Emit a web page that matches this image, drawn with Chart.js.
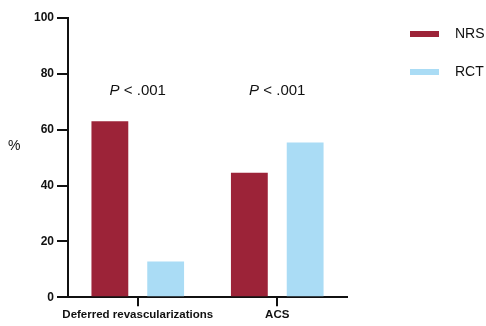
<!DOCTYPE html>
<html>
<head>
<meta charset="utf-8">
<script src="https://cdn.jsdelivr.net/npm/chart.js@4/dist/chart.umd.min.js"></script>
<style>
    html, body { margin: 0; padding: 0; background: #fff; }
    #wrap { width: 486px; height: 326px; }
</style>
</head>
<body>
<div id="wrap"><canvas id="bar-chart"></canvas></div>
<script>
// data
var categories = ['Deferred revascularizations', 'ACS'];
var nrsValues = [63, 44.6];
var rctValues = [12.8, 55.4];
var pLabels = ['.001', '.001'];
var yTicks = [0, 20, 40, 60, 80, 100];

var NRS_COLOR = '#9c2338';
var RCT_COLOR = '#aadcf5';

/*
*   "%" title, P values and the legend on the right
*/
var extras = {
    id: 'extras',
    afterDraw: function(chart) {
        var ctx = chart.ctx;
        var x = chart.scales.x, y = chart.scales.y;
        ctx.save();
        ctx.fillStyle = '#111';
        ctx.textBaseline = 'middle';

        ctx.font = '14px "Liberation Sans", Arial, sans-serif';
        ctx.textAlign = 'left';
        ctx.fillText('%', 8, y.getPixelForValue(54));

        for (var i = 0; i < pLabels.length; i++) {
            var cx = x.getPixelForValue(i);
            var py = y.getPixelForValue(74);
            ctx.font = 'italic 15px "Liberation Sans", Arial, sans-serif';
            var w1 = ctx.measureText('P').width;
            ctx.font = '15px "Liberation Sans", Arial, sans-serif';
            var rest = ' < ' + pLabels[i];
            var w2 = ctx.measureText(rest).width;
            var sx = cx - (w1 + w2) / 2;
            ctx.font = 'italic 15px "Liberation Sans", Arial, sans-serif';
            ctx.fillText('P', sx, py);
            ctx.font = '15px "Liberation Sans", Arial, sans-serif';
            ctx.fillText(rest, sx + w1, py);
        }

        chart.data.datasets.forEach(function(ds, k) {
            var ly = 34 + k * 38;
            ctx.fillStyle = ds.backgroundColor;
            ctx.fillRect(410, ly - 3, 29, 6);
            ctx.fillStyle = '#111';
            ctx.font = '14px "Liberation Sans", Arial, sans-serif';
            ctx.fillText(ds.label, 455, ly);
        });
        ctx.restore();
    }
};

var ctx = document.getElementById('bar-chart').getContext('2d');
var myChart = new Chart(ctx, {
    type: 'bar',
    data: {
        labels: categories,
        datasets: [{
            label: 'NRS',
            data: nrsValues,
            backgroundColor: NRS_COLOR
        }, {
            label: 'RCT',
            data: rctValues,
            backgroundColor: RCT_COLOR
        }]
    },
    options: {
        responsive: true,
        maintainAspectRatio: false,
        animation: false,
        layout: {
            padding: { left: 31, right: 139, top: 18, bottom: 2 }
        },
        categoryPercentage: 0.8,
        barPercentage: 0.66,
        plugins: {
            legend: { display: false },
            tooltip: { enabled: false }
        },
        scales: {
            x: {
                grid: {
                    display: true,
                    drawOnChartArea: false,
                    offset: false,
                    tickLength: 9,
                    color: '#111',
                    lineWidth: 2
                },
                border: { display: true, color: '#111', width: 2 },
                ticks: {
                    color: '#111',
                    padding: 2,
                    maxRotation: 0,
                    minRotation: 0,
                    autoSkip: false,
                    font: { family: '"Liberation Sans", Arial, sans-serif', size: 11.5, weight: 'bold' }
                }
            },
            y: {
                min: 0,
                max: 100,
                afterBuildTicks: function(scale) {
                    scale.ticks = yTicks.map(function(v) { return { value: v }; });
                },
                grid: {
                    display: true,
                    drawOnChartArea: false,
                    tickLength: 11,
                    color: '#111',
                    lineWidth: 2
                },
                border: { display: true, color: '#111', width: 2 },
                ticks: {
                    color: '#111',
                    padding: 3,
                    font: { family: '"Liberation Sans", Arial, sans-serif', size: 12, weight: 'bold' }
                }
            }
        }
    },
    plugins: [extras]
});
</script>
</body>
</html>
